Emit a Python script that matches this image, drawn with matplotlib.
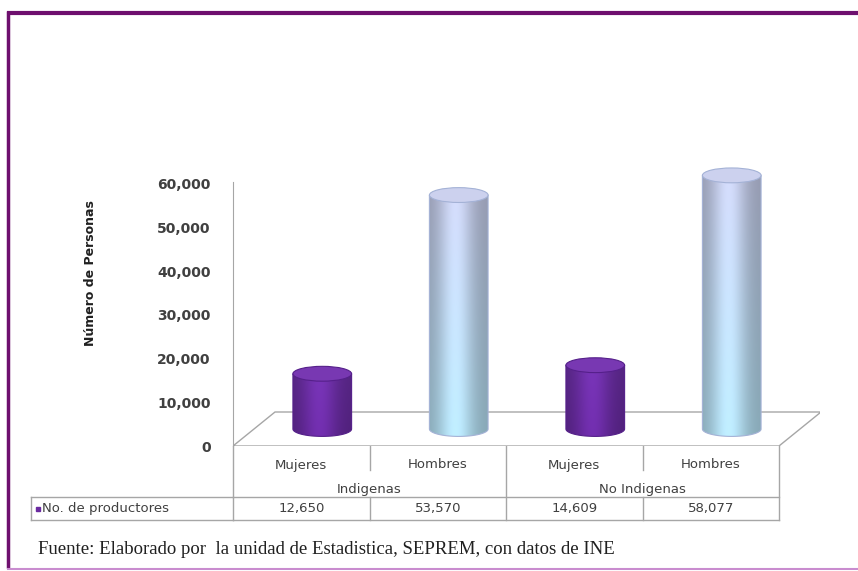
# Cylinder chart: productores by sex, indigenous / non-indigenous

import numpy as np
import matplotlib.pyplot as plt
from matplotlib.patches import Polygon, Ellipse, PathPatch
from matplotlib.path import Path
from matplotlib import transforms
from matplotlib.colors import to_rgb

# data
subgroups = ["Mujeres", "Hombres", "Mujeres", "Hombres"]
groups = ["Indigenas", "No Indigenas"]
productores = [12650, 53570, 14609, 58077]
row_label = "No. de productores"
yticks = [0, 10000, 20000, 30000, 40000, 50000, 60000]
ylabel = "Número de Personas"
source = "Fuente: Elaborado por  la unidad de Estadistica, SEPREM, con datos de INE"

purple = "#6a2aa0"
grid_color = "#a6a6a6"
text_color = "#404040"

# body colours (top of bar, bottom of bar), top cap, rim
styles = {
    "Mujeres": (("#7232ae", "#6c2ca6"), "#7838b2", "#55208a"),
    "Hombres": (("#c9d0ee", "#b6e2f5"), "#ccd1ee", "#a4b2d6"),
}

W, H = 858, 571
fig = plt.figure(figsize=(W / 100, H / 100), dpi=100)

ov = fig.add_axes([0, 0, 1, 1])
ov.set_xlim(0, W)
ov.set_ylim(H, 0)
ov.axis("off")

# chart axes: one category per 136.5 px, 0 sits at pixel row 446
px_x = 136.5
px_y = 43.67 / 10000
x0px, y0px = 233, 446
xlim = (-0.5, 3.8)
ylim = (0, 66000)
ax = fig.add_axes([x0px / W, (H - y0px) / H,
                   (xlim[1] - xlim[0]) * px_x / W, ylim[1] * px_y / H])
ax.set_facecolor("none")

dx = 42 / px_x
dy = 34 / px_y

# floor
floor = Polygon([(-0.5, 0), (3.5, 0), (3.5 + dx, dy), (-0.5 + dx, dy)],
                closed=True, facecolor="white", edgecolor=grid_color,
                linewidth=1, zorder=1)
ax.add_patch(floor)

# cylinders
bw = 0.43
eh = 3400
nx, ny = 60, 40
tx = np.linspace(0, 1, nx)
shade = 0.74 + 0.32 * np.exp(-((tx - 0.45) / 0.3) ** 2)
shade = np.clip(shade, 0, 1.08)
for i, v in enumerate(productores):
    (ctop, cbot), capc, rim = styles[subgroups[i]]
    cx = i + dx / 2
    base = dy / 2
    top = base + v
    l, r = cx - bw / 2, cx + bw / 2
    t = np.linspace(np.pi, 2 * np.pi, 40)
    arc = np.column_stack([cx + bw / 2 * np.cos(t), base + eh / 2 * np.sin(t)])
    verts = np.vstack([[l, top], arc, [r, top], [l, top]])
    body = PathPatch(Path(verts), facecolor="none", edgecolor=rim,
                     linewidth=0.8, zorder=3)
    ax.add_patch(body)

    ty = np.linspace(0, 1, ny)[:, None, None]
    col = (1 - ty) * np.array(to_rgb(cbot)) + ty * np.array(to_rgb(ctop))
    img = np.clip(col * shade[None, :, None], 0, 1)
    im = ax.imshow(img, extent=[l, r, base - eh / 2, top], origin="lower",
                   aspect="auto", interpolation="bilinear", zorder=2)
    im.set_clip_path(body)

    cap = Ellipse((cx, top), bw, eh, facecolor=capc, edgecolor=rim,
                  linewidth=0.8, zorder=4)
    ax.add_patch(cap)

ax.set_xlim(*xlim)
ax.set_ylim(*ylim)
ax.set_aspect("auto")

ax.set_xticks([])
ax.set_yticks(yticks)
ax.set_yticklabels([f"{v:,}" for v in yticks])
ax.tick_params(axis="y", length=0, pad=16, labelsize=10, labelcolor=text_color)
for lab in ax.get_yticklabels():
    lab.set_fontweight("bold")
for s in ["top", "right", "bottom"]:
    ax.spines[s].set_visible(False)
ax.spines["left"].set_color(grid_color)
ax.spines["left"].set_bounds(0, 60500)

ov.text(90, 273, ylabel, rotation=90, ha="center", va="center",
        fontsize=9, fontweight="bold", color="#202020")

# data table under the chart
tr = transforms.blended_transform_factory(ax.transData, ov.transData)
lw = 1
for xb in [-0.5, 1.5, 3.5]:
    ov.plot([xb, xb], [446, 520], color=grid_color, lw=lw, transform=tr)
for xb in [0.5, 2.5]:
    ov.plot([xb, xb], [446, 470], color=grid_color, lw=lw, transform=tr)
    ov.plot([xb, xb], [497, 520], color=grid_color, lw=lw, transform=tr)
for yb in [497, 520]:
    ov.plot([-0.5, 3.5], [yb, yb], color=grid_color, lw=lw, transform=tr)
    ov.plot([31, x0px], [yb, yb], color=grid_color, lw=lw)
ov.plot([31, 31], [497, 520], color=grid_color, lw=lw)

for i, name in enumerate(subgroups):
    ov.text(i, 465, name, ha="center", va="center", fontsize=9.5,
            color=text_color, transform=tr)
    ov.text(i, 508.5, f"{productores[i]:,}", ha="center", va="center",
            fontsize=9.5, color=text_color, transform=tr)
for g, name in enumerate(groups):
    ov.text(2 * g + 0.5, 489, name, ha="center", va="center", fontsize=9.5,
            color=text_color, transform=tr)

ov.plot([38], [508.5], marker="s", markersize=3, color=purple)
ov.text(42, 508.5, row_label, ha="left", va="center", fontsize=9.5,
        color=text_color)

# source note
ov.text(38, 549, source, ha="left", va="center", fontsize=13.5,
        family="Liberation Serif", color="#202020")

# frame
ov.plot([7, W], [12.5, 12.5], color="#6e0f6e", lw=3, solid_capstyle="butt")
ov.plot([8, 8], [11, 568], color="#6e0f6e", lw=2.5, solid_capstyle="butt")
ov.plot([8, W], [568.5, 568.5], color="#c98ccf", lw=1.5)

fig.savefig("out.png", dpi=100)
